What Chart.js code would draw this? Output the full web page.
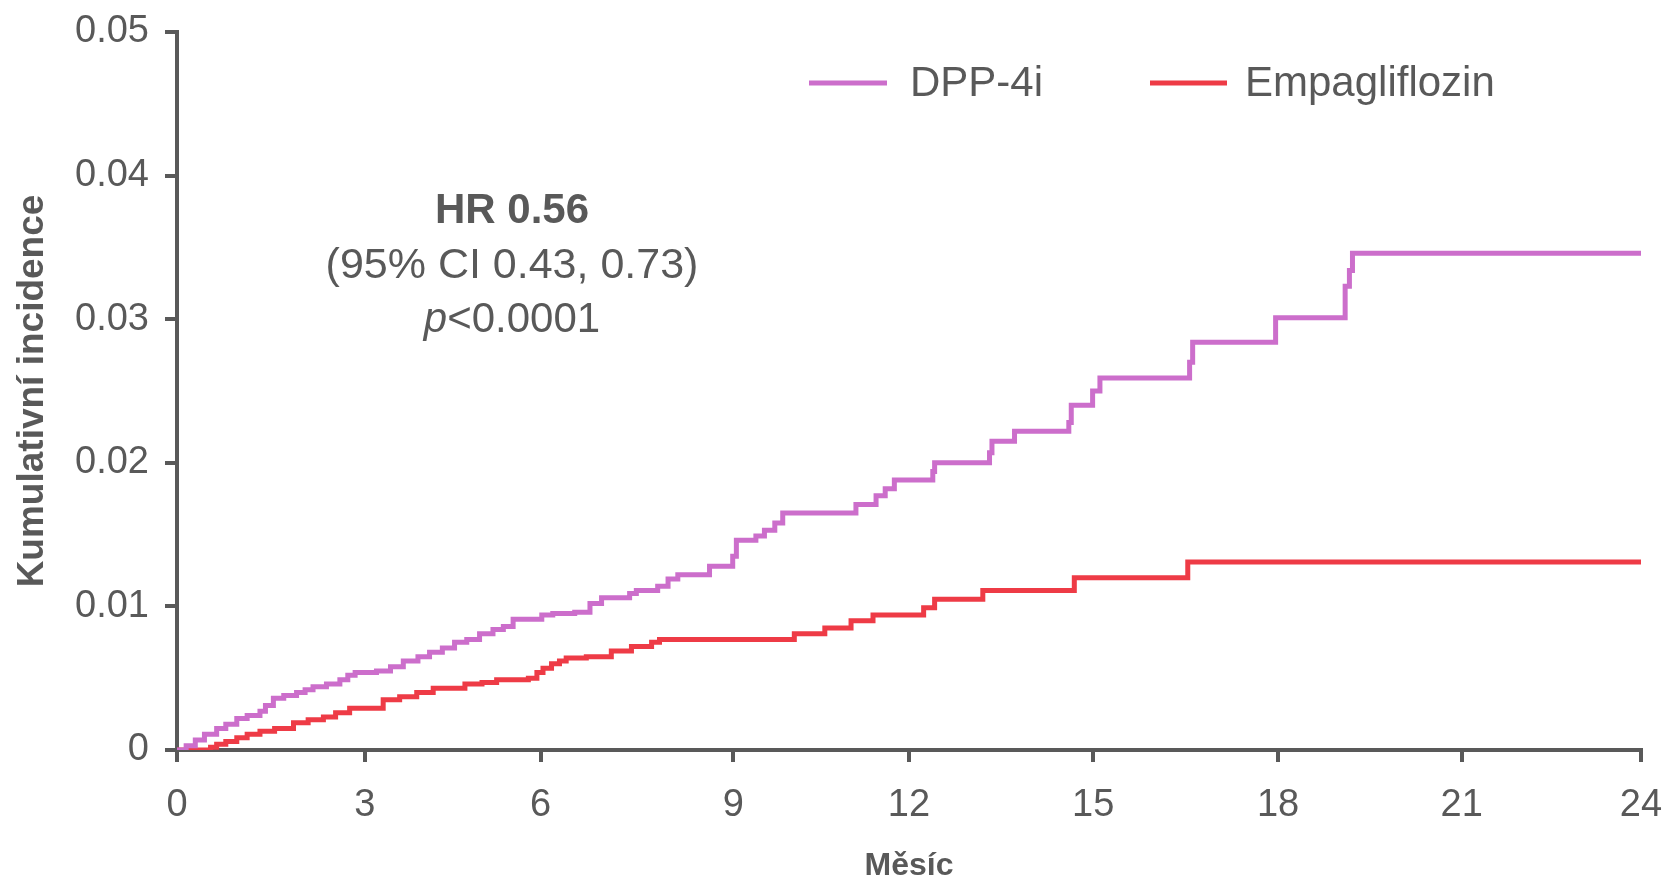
<!DOCTYPE html>
<html>
<head>
<meta charset="utf-8">
<script src="https://cdn.jsdelivr.net/npm/chart.js@4.4.1/dist/chart.umd.min.js"></script>
<style>
html,body{margin:0;padding:0;background:#ffffff;}
#wrap{width:1665px;height:878px;position:relative;}
</style>
</head>
<body>
<div id="wrap"><canvas id="c" width="1665" height="878"></canvas></div>
<script>
// ---- data ----
const seriesNames = ['DPP-4i', 'Empagliflozin'];

const dppMonths = [0, 0.15, 0.3, 0.45, 0.65, 0.8, 0.98, 1.15, 1.36, 1.45, 1.58, 1.75, 1.96, 2.1, 2.23, 2.45, 2.67, 2.8, 2.92, 3.27, 3.5, 3.71, 3.95, 4.14, 4.35, 4.55, 4.75, 4.96, 5.18, 5.35, 5.51, 5.98, 6.16, 6.52, 6.77, 6.96, 7.42, 7.53, 7.88, 8.05, 8.21, 8.73, 9.11, 9.17, 9.49, 9.63, 9.8, 9.93, 11.13, 11.46, 11.61, 11.76, 12.39, 12.42, 13.32, 13.36, 13.73, 14.62, 14.66, 15.01, 15.13, 16.6, 16.65, 18.01, 19.15, 19.22, 19.27, 24];
const dppValues = [0, 0.0003, 0.0007, 0.0011, 0.0015, 0.0018, 0.0022, 0.0024, 0.0027, 0.0031, 0.0036, 0.0038, 0.004, 0.0042, 0.0044, 0.0046, 0.0049, 0.0052, 0.0054, 0.0055, 0.0058, 0.0062, 0.0065, 0.0068, 0.0071, 0.0075, 0.0077, 0.0081, 0.0084, 0.0086, 0.0091, 0.0094, 0.0095, 0.0096, 0.0102, 0.0106, 0.0109, 0.0111, 0.0114, 0.0119, 0.0122, 0.0128, 0.0135, 0.0146, 0.0149, 0.0153, 0.0158, 0.0165, 0.0171, 0.0177, 0.0182, 0.0188, 0.0194, 0.02, 0.0207, 0.0215, 0.0222, 0.0228, 0.024, 0.025, 0.0259, 0.027, 0.0284, 0.0301, 0.0323, 0.0334, 0.0346, 0.0346];

const empaMonths = [0, 0.45, 0.55, 0.65, 0.8, 0.98, 1.15, 1.36, 1.6, 1.91, 2.15, 2.4, 2.6, 2.83, 3.38, 3.65, 3.93, 4.2, 4.72, 5.0, 5.24, 5.76, 5.9, 6.0, 6.14, 6.27, 6.38, 6.71, 7.12, 7.45, 7.78, 7.91, 10.12, 10.62, 11.05, 11.41, 12.24, 12.42, 13.21, 14.71, 16.57, 24];
const empaValues = [0, 0, 0.0002, 0.0004, 0.0006, 0.00085, 0.0011, 0.0013, 0.0015, 0.0019, 0.0021, 0.0023, 0.0026, 0.0029, 0.0035, 0.0037, 0.004, 0.0043, 0.0046, 0.0047, 0.0049, 0.005, 0.0054, 0.0057, 0.006, 0.0062, 0.0064, 0.0065, 0.0069, 0.0072, 0.0075, 0.0077, 0.0081, 0.0085, 0.009, 0.0094, 0.0099, 0.0105, 0.0111, 0.012, 0.0131, 0.0131];

// x tick labels and where they sit on the month axis (as placed in the picture)
const xTickLabels = ['0', '3', '6', '9', '12', '15', '18', '21', '24'];
const xTickPositions = [0, 3.08, 5.96, 9.12, 12, 15.02, 18.05, 21.06, 24];
const yTickValues = [0, 0.01, 0.02, 0.03, 0.04, 0.05];
const xAxisTitle = 'Měsíc';
const yAxisTitle = 'Kumulativní incidence';
const hrLine = 'HR 0.56';
const ciLine = '(95% CI 0.43, 0.73)';
const pLetter = 'p';
const pRest = '<0.0001';

// ---- styles ----
const AXIS = '#595959';
const TEXT = '#595959';
const PURPLE = '#CC6ECB';
const RED = '#EE3B46';
const FONT = "'Liberation Sans', Arial, sans-serif";

const toPoints = (xs, ys) => xs.map((x, i) => ({x: x, y: ys[i]}));

const overlayPlugin = {
  id: 'overlay',
  afterDraw(chart) {
    const ctx = chart.ctx;
    const ds = chart.data.datasets;
    ctx.save();
    // legend
    const legendY = 83;
    const items = [{x0: 809, x1: 887, tx: 910}, {x0: 1150, x1: 1227, tx: 1245}];
    items.forEach((it, i) => {
      ctx.strokeStyle = ds[i].borderColor;
      ctx.lineWidth = 5;
      ctx.beginPath();
      ctx.moveTo(it.x0, legendY);
      ctx.lineTo(it.x1, legendY);
      ctx.stroke();
      ctx.fillStyle = TEXT;
      ctx.font = '42px ' + FONT;
      ctx.textAlign = 'left';
      ctx.textBaseline = 'middle';
      ctx.fillText(ds[i].label, it.tx, legendY + 1);
    });
    // annotation
    const cx = 512;
    ctx.fillStyle = TEXT;
    ctx.textAlign = 'center';
    ctx.textBaseline = 'middle';
    ctx.font = 'bold 42px ' + FONT;
    ctx.fillText(hrLine, cx, 211);
    ctx.font = '43px ' + FONT;
    ctx.fillText(ciLine, cx, 266);
    ctx.font = 'italic 42px ' + FONT;
    const wp = ctx.measureText(pLetter).width;
    ctx.font = '42px ' + FONT;
    const wr = ctx.measureText(pRest).width;
    const start = cx - (wp + wr) / 2;
    ctx.textAlign = 'left';
    ctx.font = 'italic 42px ' + FONT;
    ctx.fillText(pLetter, start, 320);
    ctx.font = '42px ' + FONT;
    ctx.fillText(pRest, start + wp, 320);
    ctx.restore();
  }
};

new Chart(document.getElementById('c'), {
  type: 'line',
  data: {
    datasets: [
      {label: seriesNames[0], data: toPoints(dppMonths, dppValues), borderColor: PURPLE, backgroundColor: PURPLE, borderWidth: 5, stepped: 'before', pointRadius: 0, fill: false},
      {label: seriesNames[1], data: toPoints(empaMonths, empaValues), borderColor: RED, backgroundColor: RED, borderWidth: 5, stepped: 'before', pointRadius: 0, fill: false}
    ]
  },
  options: {
    responsive: false,
    animation: false,
    devicePixelRatio: 1,
    layout: {padding: {top: 32, right: 24, left: 0, bottom: 0}},
    plugins: {legend: {display: false}, tooltip: {enabled: false}, title: {display: false}},
    scales: {
      x: {
        type: 'linear', min: 0, max: 24,
        afterBuildTicks: s => { s.ticks = xTickPositions.map(v => ({value: v})); },
        afterFit: s => { s.height = 128; s.paddingLeft = 0; s.paddingRight = 0; },
        ticks: {autoSkip: false, maxRotation: 0, color: TEXT, padding: 21, font: {family: FONT, size: 38}, callback: (v, i) => xTickLabels[i]},
        grid: {drawOnChartArea: false, drawTicks: true, tickLength: 12, color: AXIS, lineWidth: 4},
        border: {display: true, color: AXIS, width: 4},
        title: {display: true, text: xAxisTitle, color: TEXT, font: {family: FONT, size: 32, weight: 'bold', lineHeight: 0.7}, padding: {top: 0, bottom: 1}}
      },
      y: {
        type: 'linear', min: 0, max: 0.05,
        afterBuildTicks: s => { s.ticks = yTickValues.map(v => ({value: v})); },
        afterFit: s => { s.width = 177; s.paddingTop = 0; s.paddingBottom = 0; },
        ticks: {color: TEXT, padding: 16, font: {family: FONT, size: 38}, callback: v => (v === 0 ? '0' : v.toFixed(2))},
        grid: {drawOnChartArea: false, drawTicks: true, tickLength: 12, color: AXIS, lineWidth: 4},
        border: {display: true, color: AXIS, width: 4},
        title: {display: true, text: yAxisTitle, color: TEXT, font: {family: FONT, size: 37, weight: 'bold', lineHeight: 1.2}, padding: {top: 11, bottom: 0}}
      }
    }
  },
  plugins: [overlayPlugin]
});
</script>
</body>
</html>
